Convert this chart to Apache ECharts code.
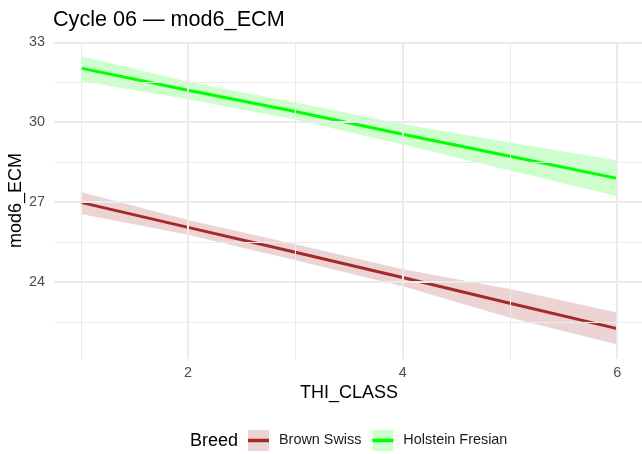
<!DOCTYPE html>
<html>
<head>
<meta charset="utf-8">
<script src="https://cdn.jsdelivr.net/npm/echarts@6/dist/echarts.min.js"></script>
<style>
  html, body { margin: 0; padding: 0; background: #fff; }
  #chart { width: 642px; height: 454px; }
</style>
</head>
<body>
<div id="chart"></div>
<script>
// THI classes on the x axis
const thiClass = [1, 2, 3, 4, 5, 6];

// Fitted mod6_ECM per breed with confidence band
const brownFit   = [26.99, 26.05, 25.12, 24.17, 23.20, 22.25];
const brownLower = [26.55, 25.77, 24.82, 23.84, 22.66, 21.65];
const brownUpper = [27.38, 26.33, 25.42, 24.48, 23.74, 22.86];

const holsteinFit   = [32.03, 31.20, 30.40, 29.55, 28.72, 27.89];
const holsteinLower = [31.55, 30.86, 30.10, 29.16, 28.19, 27.22];
const holsteinUpper = [32.48, 31.52, 30.74, 29.93, 29.24, 28.56];

// Axis ticks and grid lines
const xLabels = [2, 4, 6];
const xMinorGrid = [1, 3, 5];
const yLabels = [24, 27, 30, 33];
const yMinorGrid = [22.5, 25.5, 28.5, 31.5];

const breeds = ['Brown Swiss', 'Holstein Fresian'];
const lineColors = ['#A52A2A', '#00FF00'];
const bandLegendColors = ['#EDD4D4', '#CCFFCC'];

const pairs = (xs, ys) => xs.map((x, i) => [x, ys[i]]);

// Confidence ribbon: polygon along the upper edge, back along the lower edge
function bandSeries(name, lower, upper, color, legendColor) {
  return {
    name: name + ' band',
    type: 'custom',
    coordinateSystem: 'cartesian2d',
    silent: true,
    z: 1,
    itemStyle: { color: legendColor },
    encode: { x: 0, y: 1 },
    data: pairs(thiClass, upper).concat(pairs(thiClass, lower)),
    renderItem: function (params, api) {
      if (params.dataIndex !== 0) return null;
      const pts = [];
      for (let i = 0; i < thiClass.length; i++) pts.push(api.coord([thiClass[i], upper[i]]));
      for (let i = thiClass.length - 1; i >= 0; i--) pts.push(api.coord([thiClass[i], lower[i]]));
      return {
        type: 'polygon',
        shape: { points: pts },
        style: { fill: color, opacity: 0.2 }
      };
    }
  };
}

const gridLine = (w) => ({ color: '#ebebeb', width: w, type: 'solid' });

const gridSeries = {
  name: 'grid',
  type: 'line',
  data: [],
  silent: true,
  z: 0,
  markLine: {
    silent: true,
    symbol: ['none', 'none'],
    animation: false,
    label: { show: false },
    emphasis: { disabled: true },
    data: [
      ...xMinorGrid.map(v => ({ xAxis: v, lineStyle: gridLine(1) })),
      ...xLabels.map(v => ({ xAxis: v, lineStyle: gridLine(2) })),
      ...yMinorGrid.map(v => ({ yAxis: v, lineStyle: gridLine(1) })),
      ...yLabels.map(v => ({ yAxis: v, lineStyle: gridLine(2) }))
    ]
  }
};

const fontFamily = 'Liberation Sans, Arial, sans-serif';

// legend key: horizontal stroke inside a 21x21 box (tiny corner marks fix the box size)
const lineKeyIcon = 'path://M0,0L0.01,0L0,0.01Z M21,21L20.99,21L21,20.99Z M0,8.7L21,8.7L21,12.3L0,12.3Z';

const legendCommon = {
  orient: 'horizontal',
  left: 243,
  top: 425,
  itemWidth: 21,
  itemHeight: 21,
  itemGap: 11,
  selectedMode: false,
  formatter: (n) => n.replace(/ band$/, ''),
  textStyle: { fontFamily, fontSize: 14.4, color: '#1a1a1a', padding: [0, 0, 0, 5] }
};

const chart = echarts.init(document.getElementById('chart'), null, { renderer: 'canvas' });
chart.setOption({
  animation: false,
  backgroundColor: '#ffffff',
  title: {
    text: 'Cycle 06 \u2014 mod6_ECM',
    left: 53,
    top: 9,
    padding: 0,
    textStyle: { fontFamily, fontSize: 21.6, fontWeight: 'normal', color: '#000000' }
  },
  grid: { left: 54, right: -2, top: 42, bottom: 95, containLabel: false, outerBoundsMode: 'none' },
  xAxis: {
    type: 'value',
    min: 0.75,
    max: 6.25,
    name: 'THI_CLASS',
    nameLocation: 'middle',
    nameGap: 25,
    nameMoveOverlap: false,
    nameTextStyle: { fontFamily, fontSize: 18, color: '#000000', verticalAlign: 'top' },
    axisLine: { show: false },
    axisTick: { show: false },
    splitLine: { show: false },
    axisLabel: { customValues: xLabels, color: '#4d4d4d', fontFamily, fontSize: 14.4, margin: 7 }
  },
  yAxis: {
    type: 'value',
    min: 21.11,
    max: 33.01,
    name: 'mod6_ECM',
    nameLocation: 'middle',
    nameRotate: 90,
    nameGap: 29,
    nameMoveOverlap: false,
    nameTextStyle: { fontFamily, fontSize: 18, color: '#000000' },
    axisLine: { show: false },
    axisTick: { show: false },
    splitLine: { show: false },
    axisLabel: { customValues: yLabels, color: '#4d4d4d', fontFamily, fontSize: 14.4, margin: 9 }
  },
  legend: [
    Object.assign({}, legendCommon, {
      data: breeds.map(b => ({ name: b + ' band', icon: 'rect' }))
    }),
    Object.assign({}, legendCommon, {
      data: breeds.map(b => ({ name: b, icon: lineKeyIcon })),
      textStyle: Object.assign({}, legendCommon.textStyle, { color: 'rgba(0,0,0,0)' })
    })
  ],
  graphic: [{
    type: 'text',
    left: 190,
    top: 432,
    style: { text: 'Breed', fontFamily, fontSize: 18, fill: '#000000' }
  }],
  series: [
    gridSeries,
    bandSeries(breeds[0], brownLower, brownUpper, lineColors[0], bandLegendColors[0]),
    bandSeries(breeds[1], holsteinLower, holsteinUpper, lineColors[1], bandLegendColors[1]),
    {
      name: breeds[0],
      type: 'line',
      data: pairs(thiClass, brownFit),
      symbol: 'none',
      color: lineColors[0],
      itemStyle: { color: lineColors[0] },
      lineStyle: { color: lineColors[0], width: 3 },
      z: 3
    },
    {
      name: breeds[1],
      type: 'line',
      data: pairs(thiClass, holsteinFit),
      symbol: 'none',
      color: lineColors[1],
      itemStyle: { color: lineColors[1] },
      lineStyle: { color: lineColors[1], width: 3 },
      z: 3
    }
  ]
});
</script>
</body>
</html>
